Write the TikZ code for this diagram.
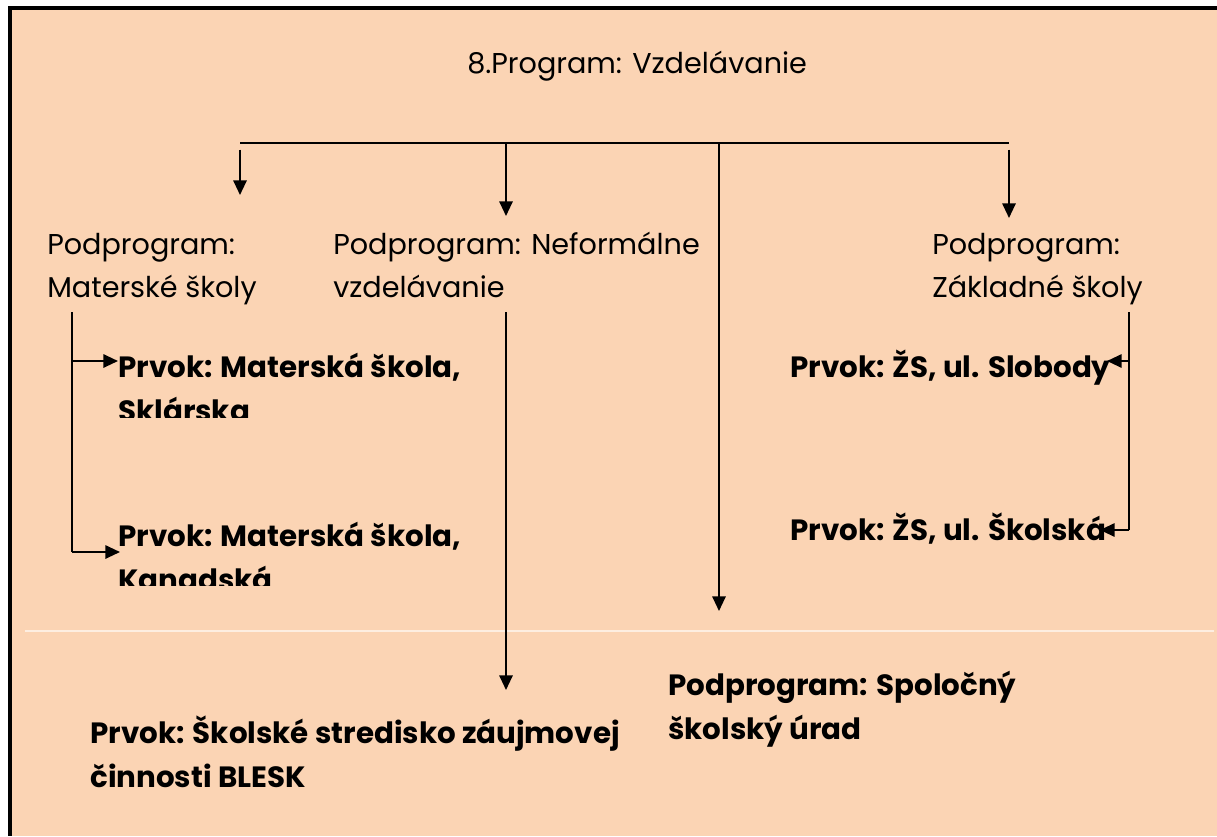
\documentclass[tikz,border=0pt]{standalone}
\usepackage{fontspec}
\setmainfont{Poppins}
\usetikzlibrary{arrows.meta}
\definecolor{peach}{RGB}{251,212,180}

\begin{document}
\begin{tikzpicture}[x=0.75pt,y=-0.75pt,
  txt/.style={anchor=base west,inner sep=0pt,align=left,
    font=\fontsize{21.5}{32.25}\selectfont},
  btxt/.style={txt,font=\fontsize{22}{33}\selectfont\bfseries},
  conn/.style={line width=1.5pt},
  arr/.style={conn,-{Triangle[length=11pt,width=10pt]}}]

% ---- page, frame ----
\useasboundingbox (0,0) rectangle (1217,836);
\fill[white] (0,0) rectangle (1217,836);
\fill[peach] (12,10) rectangle (1217,836);
\fill[black] (8,6) rectangle (1217,10);   % top edge
\fill[black] (8,6) rectangle (12,836);    % left edge
\draw[white!60!peach,line width=1pt] (25,631) -- (1214,631);

% ---- texts (base = last line) ----
\node[txt] (prog) at (467,73) {8.Program: Vzdelávanie};
\node[txt] (pmat) at (47,297) {Podprogram:\\Materské školy};
\node[txt] (pnef) at (333,297) {Podprogram: Neformálne\\vzdelávanie};
\node[txt] (pzak) at (932,297) {Podprogram:\\Základné školy};
\begin{scope}
  \clip (100,330) rectangle (520,417);
  \node[btxt] (ms1) at (118,421) {Prvok: Materská škola,\\Sklárska};
\end{scope}
\begin{scope}
  \clip (100,500) rectangle (520,585);
  \node[btxt] (ms2) at (118,590) {Prvok: Materská škola,\\Kanadská};
\end{scope}
\node[btxt] (zs1) at (790,377) {Prvok: ŽS, ul. Slobody};
\node[btxt] (zs2) at (790,540) {Prvok: ŽS, ul. Školská};
\node[btxt] (ssu) at (668,739) {Podprogram: Spoločný\\školský úrad};
\node[btxt] (blesk) at (90,787) {Prvok: Školské stredisko záujmovej\\činnosti BLESK};

% ---- connector points ----
\coordinate (b1) at (240,143);
\coordinate (b2) at (506,143);
\coordinate (b3) at (719,143);
\coordinate (b4) at (1009,143);
\coordinate (t1) at (240,195);
\coordinate (t2) at (506,216);
\coordinate (t3) at (719,611);
\coordinate (t4) at (1009,218);
\coordinate (ls) at (72,312);
\coordinate (l1) at (72,361);
\coordinate (l2) at (72,552);
\coordinate (l1e) at (118,361);
\coordinate (l2e) at (120,552);
\coordinate (ms) at (506,312);
\coordinate (mt) at (506,690);
\coordinate (rs) at (1129,312);
\coordinate (r1) at (1129,361);
\coordinate (r2) at (1129,530);
\coordinate (r1e) at (1107,361);
\coordinate (r2e) at (1100,530);

% ---- tree ----
\draw[conn] (b1) -- (b4);
\draw[arr] ([yshift=-5pt]b1) -- (t1);
\draw[arr] (b2) -- (t2);
\draw[arr] (b3) -- (t3);
\draw[arr] ([yshift=-5pt]b4) -- (t4);

\draw[conn] (ls) -- (l2);
\draw[arr] (l1) -- (l1e);
\draw[arr] (l2) -- (l2e);
\draw[arr] (ms) -- (mt);
\draw[conn] (rs) -- (r2);
\draw[arr] (r1) -- (r1e);
\draw[arr] (r2) -- (r2e);

\end{tikzpicture}
\end{document}
